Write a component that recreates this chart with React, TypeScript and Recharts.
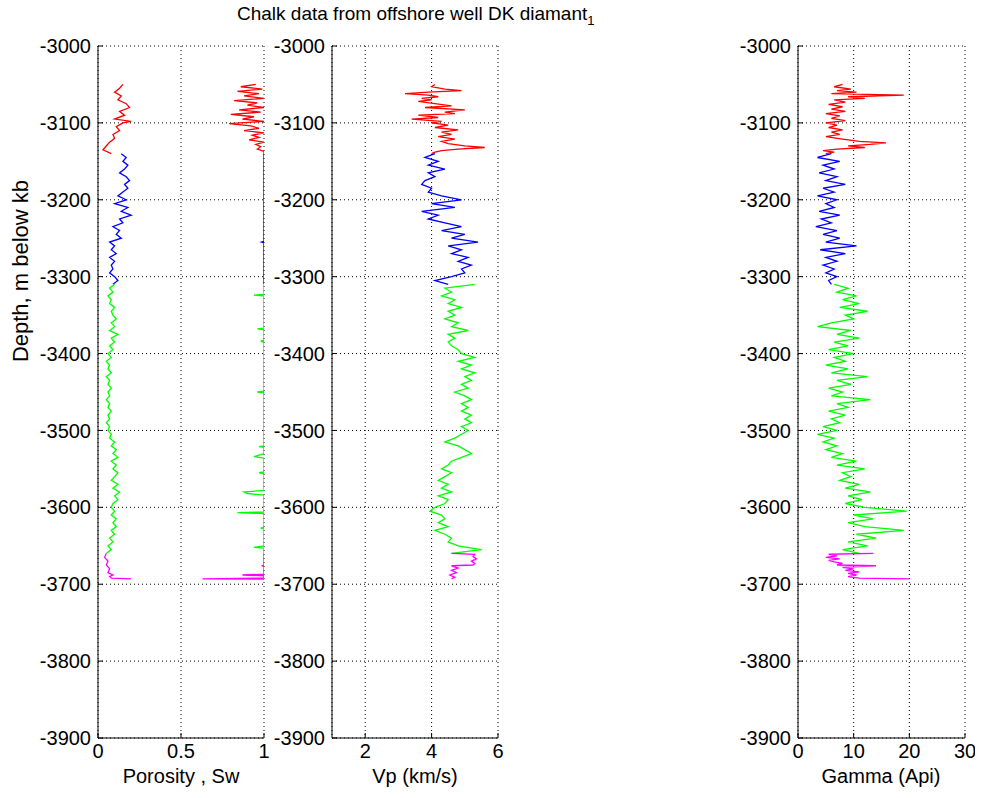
import React from 'react';
import { ScatterChart, Scatter, XAxis, YAxis, CartesianGrid } from 'recharts';

// depth samples (m below kb, negative down) and log readings per zone
const depthTicks = [-3900, -3800, -3700, -3600, -3500, -3400, -3300, -3200, -3100, -3000];

const blueDepth = [
  -3140, -3145, -3150, -3155, -3160, -3165, -3170, -3175, -3180, -3185, -3190, -3195,
  -3200, -3205, -3210, -3215, -3220, -3225, -3230, -3235, -3240, -3245, -3250, -3255,
  -3260, -3265, -3270, -3275, -3280, -3285, -3290, -3295, -3300, -3305, -3310,
];
const greenDepth = [
  -3310, -3315, -3320, -3325, -3330, -3335, -3340, -3345, -3350, -3355, -3360, -3365,
  -3370, -3375, -3380, -3385, -3390, -3395, -3400, -3405, -3410, -3415, -3420, -3425,
  -3430, -3435, -3440, -3445, -3450, -3455, -3460, -3465, -3470, -3475, -3480, -3485,
  -3490, -3495, -3500, -3505, -3510, -3515, -3520, -3525, -3530, -3535, -3540, -3545,
  -3550, -3555, -3560, -3565, -3570, -3575, -3580, -3585, -3590, -3595, -3600, -3605,
  -3610, -3615, -3620, -3625, -3630, -3635, -3640, -3645, -3650, -3655, -3660,
];

// porosity (fraction)
const redPhiDepth = [-3050, -3055, -3060, -3065, -3070, -3075, -3080, -3085, -3090, -3095, -3098, -3100, -3105, -3110, -3115, -3120, -3125, -3130, -3135, -3140];
const redPhi = [0.15, 0.13, 0.1, 0.14, 0.12, 0.17, 0.19, 0.13, 0.16, 0.1, 0.2, 0.15, 0.11, 0.13, 0.09, 0.1, 0.07, 0.05, 0.03, 0.08];
const bluePhi = [
  0.14, 0.17, 0.15, 0.18, 0.16, 0.13, 0.17, 0.19, 0.16, 0.18, 0.15, 0.12,
  0.17, 0.1, 0.18, 0.14, 0.2, 0.13, 0.15, 0.09, 0.13, 0.11, 0.14, 0.07,
  0.1, 0.08, 0.11, 0.07, 0.1, 0.08, 0.09, 0.07, 0.1, 0.12, 0.09,
];
const greenPhi = [
  0.1, 0.07, 0.09, 0.06, 0.08, 0.07, 0.1, 0.08, 0.09, 0.11, 0.08, 0.1,
  0.07, 0.12, 0.08, 0.1, 0.07, 0.09, 0.06, 0.08, 0.05, 0.07, 0.06, 0.08,
  0.05, 0.07, 0.06, 0.08, 0.06, 0.07, 0.05, 0.07, 0.06, 0.08, 0.06, 0.07,
  0.05, 0.07, 0.06, 0.08, 0.07, 0.1, 0.08, 0.11, 0.09, 0.12, 0.08, 0.11,
  0.09, 0.12, 0.1, 0.08, 0.12, 0.09, 0.13, 0.1, 0.12, 0.09, 0.08, 0.1,
  0.08, 0.11, 0.09, 0.11, 0.08, 0.1, 0.07, 0.09, 0.06, 0.08, 0.05,
];
const magPhiDepth = [-3660, -3665, -3670, -3675, -3680, -3685, -3688, -3690, -3692, -3693];
const magPhi = [0.05, 0.04, 0.06, 0.05, 0.07, 0.06, 0.09, 0.07, 0.08, 0.2];

// water saturation
const redSwDepth = [
  -3050, -3053, -3056, -3059, -3062, -3065, -3068, -3071, -3074, -3077, -3080, -3083, -3086, -3089, -3092, -3095,
  -3098, -3101, -3104, -3107, -3110, -3113, -3116, -3119, -3122, -3125, -3128, -3131, -3134, -3137, -3140,
];
const redSw = [
  0.95, 0.86, 0.99, 0.84, 0.97, 0.88, 1.0, 0.82, 0.96, 0.9, 1.0, 0.85, 0.98, 0.8, 0.94, 0.87,
  1.0, 0.79, 0.92, 0.97, 0.88, 1.0, 0.93, 0.97, 0.91, 1.0, 0.95, 0.98, 0.96, 1.0, 1.0,
];
const blueSwDepth = [-3140, -3254, -3255, -3256, -3310];
const blueSw = [1, 1, 0.985, 1, 1];
const greenSwDepth = [
  -3310, -3323, -3324, -3325, -3367, -3368, -3369, -3383, -3384, -3385, -3449, -3450, -3451,
  -3520, -3521, -3522, -3530, -3532, -3534, -3536, -3554, -3555, -3556, -3578, -3580, -3582,
  -3584, -3606, -3607, -3608, -3626, -3627, -3628, -3650, -3652, -3653, -3660,
];
const greenSw = [
  1, 1, 0.94, 1, 1, 0.96, 1, 1, 0.98, 1, 1, 0.96, 1,
  1, 0.97, 1, 1, 0.97, 0.94, 1, 1, 0.97, 1, 1, 0.88, 0.9,
  1, 1, 0.84, 1, 1, 0.98, 1, 1, 0.94, 1, 1,
];
const magSwDepth = [-3660, -3675, -3676, -3677, -3687, -3688, -3689, -3692, -3693, -3693.5];
const magSw = [1, 1, 0.99, 1, 1, 0.87, 1, 1, 0.63, 1];

// P-wave velocity (km/s)
const redVpDepth = [
  -3050, -3053, -3056, -3058, -3060, -3062, -3064, -3066, -3068, -3070, -3072, -3075, -3078, -3080, -3083, -3086,
  -3088, -3090, -3093, -3095, -3098, -3100, -3103, -3106, -3109, -3112, -3115, -3118, -3121, -3124, -3127, -3130,
  -3132, -3134, -3136, -3138, -3140,
];
const redVp = [
  4.1, 4.0, 4.4, 4.9, 3.9, 3.2, 3.9, 4.2, 3.7, 4.0, 3.6, 4.1, 4.6, 3.8, 5.0, 4.4,
  4.7, 3.6, 4.2, 3.4, 4.3, 4.0, 4.5, 4.1, 4.8, 4.3, 4.6, 4.2, 4.7, 4.3, 4.5, 5.0,
  5.6, 4.8, 4.3, 4.1, 4.0,
];
const blueVp = [
  4.1, 3.8, 4.2, 3.9, 4.4, 3.9, 4.1, 3.8, 3.7, 4.0, 3.9, 4.3,
  4.9, 4.0, 4.7, 3.7, 4.2, 3.9, 4.4, 4.9, 4.3, 5.0, 4.6, 5.4,
  4.5, 4.9, 4.6, 5.1, 4.8, 5.2, 4.9, 5.0, 4.6, 4.1, 4.5,
];
const greenVp = [
  5.3, 4.4, 4.6, 4.3, 4.7, 4.5, 4.9, 4.5, 4.7, 4.4, 4.8, 4.6,
  5.1, 4.5, 4.7, 4.5, 4.6, 4.8, 4.9, 5.3, 4.8, 5.2, 4.9, 5.3,
  5.0, 5.2, 4.9, 5.1, 4.7, 5.0, 5.2, 4.9, 5.1, 4.9, 5.2, 5.0,
  5.2, 4.9, 5.1, 4.9, 4.7, 4.4, 4.8, 5.0, 5.2, 4.9, 4.6, 4.5,
  4.3, 4.6, 4.4, 4.2, 4.5, 4.3, 4.6, 4.2, 4.5, 4.4, 4.1, 3.95,
  4.3, 4.4, 4.2, 4.5, 4.1, 4.4, 4.6, 4.5, 4.8, 5.5, 4.6,
];
const magVpDepth = [-3660, -3661, -3664, -3667, -3670, -3673, -3675, -3676, -3679, -3682, -3685, -3688, -3691, -3693];
const magVp = [4.6, 5.3, 5.25, 5.35, 5.2, 5.3, 5.25, 4.6, 4.8, 4.6, 4.75, 4.55, 4.7, 4.6];

// gamma ray (API)
const redGrDepth = [
  -3050, -3053, -3056, -3058, -3060, -3062, -3064, -3066, -3068, -3070, -3073, -3076, -3079, -3082, -3085, -3088,
  -3091, -3094, -3097, -3100, -3103, -3106, -3109, -3112, -3115, -3118, -3121, -3124, -3126, -3128, -3130, -3132,
  -3134, -3136, -3138, -3140,
];
const redGr = [
  8.0, 6.5, 9.5, 7.0, 10.5, 6.0, 19.0, 9.0, 12.0, 6.5, 8.5, 5.5, 8.0, 6.0, 8.5, 5.0,
  7.5, 6.0, 8.5, 5.0, 7.0, 5.5, 8.0, 6.0, 7.5, 5.0, 8.0, 11.0, 15.8, 13.0, 9.0, 12.0,
  7.0, 4.5, 6.5, 5.0,
];
const blueGr = [
  6.0, 3.5, 7.5, 4.5, 6.5, 3.8, 7.0, 5.0, 8.5, 4.5, 6.5, 3.5,
  7.0, 5.0, 6.5, 3.8, 7.5, 4.2, 6.0, 3.2, 7.0, 4.5, 7.5, 5.0,
  10.5, 4.0, 8.5, 5.0, 7.0, 4.5, 6.5, 5.0, 7.0, 5.5, 6.0,
];
const greenGr = [
  6.5, 9.0, 7.0, 10.5, 8.0, 11.0, 7.5, 12.5, 8.5, 10.0, 6.0, 3.5,
  9.5, 7.0, 11.0, 6.5, 9.0, 5.5, 10.0, 6.5, 8.5, 5.0, 9.0, 6.0,
  12.5, 7.0, 9.5, 5.5, 8.0, 6.0, 13.0, 7.0, 9.0, 5.5, 8.5, 6.0,
  7.5, 4.5, 7.0, 3.5, 6.5, 4.5, 7.0, 5.0, 8.0, 6.0, 10.5, 7.0,
  12.0, 8.0, 9.5, 7.5, 11.0, 8.5, 13.0, 9.0, 11.5, 8.5, 12.0, 19.5,
  10.0, 13.5, 9.0, 12.0, 19.0, 10.5, 14.0, 9.0, 12.5, 8.0, 11.0,
];
const magGrDepth = [-3660, -3661, -3663, -3665, -3667, -3669, -3671, -3673, -3675, -3676, -3678, -3680, -3682, -3684, -3686, -3688, -3690, -3692, -3693];
const magGr = [13.5, 5.5, 7.0, 5.0, 7.5, 5.5, 6.5, 8.0, 7.0, 14.0, 8.0, 10.0, 8.5, 11.0, 9.0, 10.5, 9.0, 11.0, 20.0];

const RED = '#ff0000';
const BLUE = '#0000ff';
const GREEN = '#00ff00';
const MAGENTA = '#ff00ff';

type Seg = { depth: number[]; values: number[]; color: string };

const toPoints = (depth: number[], values: number[]) => depth.map((d, i) => ({ x: values[i], y: d }));

const PLOT_TOP = 46;
const PLOT_H = 692;
const YAXIS_W = 60;
const FONT = '"Liberation Sans", Arial, sans-serif';
const tickStyle = { fill: '#000', fontSize: 20 };

const noDot = () => <g />;

function LogPanel({ left, width, domain, ticks, segs }: { left: number; width: number; domain: [number, number]; ticks: number[]; segs: Seg[] }) {
  return (
    <div style={{ position: 'absolute', left: left - YAXIS_W, top: PLOT_TOP - 10 }}>
      <ScatterChart width={YAXIS_W + width + 10} height={10 + PLOT_H + 40} margin={{ top: 10, right: 10, bottom: 0, left: 0 }}>
        <CartesianGrid stroke="#000" strokeDasharray="1 3" />
        {segs.map((s, i) => (
          <Scatter
            key={i}
            data={toPoints(s.depth, s.values)}
            fill={s.color}
            line={{ stroke: s.color, strokeWidth: 1.3 }}
            lineType="joint"
            shape={noDot}
            isAnimationActive={false}
          />
        ))}
        <XAxis type="number" dataKey="x" domain={domain} ticks={ticks} allowDataOverflow interval={0} height={40}
          stroke="#000" tickSize={-5} tickMargin={11} tick={tickStyle} />
        <YAxis type="number" dataKey="y" domain={[-3900, -3000]} ticks={depthTicks} allowDataOverflow interval={0} width={YAXIS_W}
          stroke="#000" tickSize={-5} tickMargin={12} tick={tickStyle} />
        <XAxis xAxisId="top" orientation="top" type="number" domain={domain} ticks={ticks} allowDataOverflow interval={0} height={0}
          stroke="#000" tickSize={-5} tick={false} />
        <YAxis yAxisId="right" orientation="right" type="number" domain={[-3900, -3000]} ticks={depthTicks} allowDataOverflow interval={0} width={0}
          stroke="#000" tickSize={-5} tick={false} />
      </ScatterChart>
    </div>
  );
}

const labelStyle: React.CSSProperties = { position: 'absolute', fontSize: 20, lineHeight: '20px', whiteSpace: 'nowrap', textAlign: 'center' };

export default function App() {
  return (
    <div style={{ position: 'absolute', left: 0, top: 0, width: 983, height: 798, background: '#fff', fontFamily: FONT, color: '#000' }}>
      <div style={{ position: 'absolute', left: 237, top: 4, fontSize: 19, lineHeight: '19px', whiteSpace: 'nowrap' }}>
        Chalk data from offshore well DK diamant<sub style={{ fontSize: 13 }}>1</sub>
      </div>
      <div style={{ position: 'absolute', left: 21, top: 271, width: 0, height: 0 }}>
        <div style={{ position: 'absolute', left: -110, top: -11, width: 220, fontSize: 22, lineHeight: '22px', textAlign: 'center', whiteSpace: 'nowrap', transform: 'rotate(-90deg)' }}>
          Depth, m below kb
        </div>
      </div>

      <LogPanel
        left={98}
        width={166}
        domain={[0, 1]}
        ticks={[0, 0.5, 1]}
        segs={[
          { depth: redPhiDepth, values: redPhi, color: RED },
          { depth: blueDepth, values: bluePhi, color: BLUE },
          { depth: greenDepth, values: greenPhi, color: GREEN },
          { depth: magPhiDepth, values: magPhi, color: MAGENTA },
          { depth: redSwDepth, values: redSw, color: RED },
          { depth: blueSwDepth, values: blueSw, color: BLUE },
          { depth: greenSwDepth, values: greenSw, color: GREEN },
          { depth: magSwDepth, values: magSw, color: MAGENTA },
        ]}
      />
      <LogPanel
        left={332}
        width={166}
        domain={[1, 6]}
        ticks={[2, 4, 6]}
        segs={[
          { depth: redVpDepth, values: redVp, color: RED },
          { depth: blueDepth, values: blueVp, color: BLUE },
          { depth: greenDepth, values: greenVp, color: GREEN },
          { depth: magVpDepth, values: magVp, color: MAGENTA },
        ]}
      />
      <LogPanel
        left={798}
        width={167}
        domain={[0, 30]}
        ticks={[0, 10, 20, 30]}
        segs={[
          { depth: redGrDepth, values: redGr, color: RED },
          { depth: blueDepth, values: blueGr, color: BLUE },
          { depth: greenDepth, values: greenGr, color: GREEN },
          { depth: magGrDepth, values: magGr, color: MAGENTA },
        ]}
      />

      <div style={{ ...labelStyle, left: 81, width: 200, top: 766 }}>Porosity , Sw</div>
      <div style={{ ...labelStyle, left: 315, width: 200, top: 766 }}>Vp (km/s)</div>
      <div style={{ ...labelStyle, left: 781, width: 200, top: 766 }}>Gamma (Api)</div>
    </div>
  );
}
